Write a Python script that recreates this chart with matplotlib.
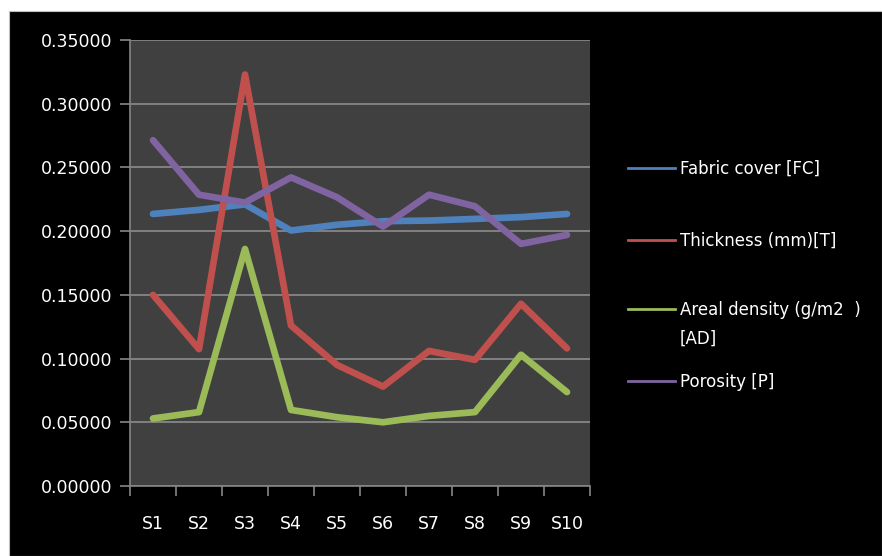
import matplotlib
matplotlib.use("Agg")
import matplotlib.pyplot as plt
from matplotlib.lines import Line2D
from matplotlib.patches import Rectangle

# Sample categories and measured properties
samples = ["S1", "S2", "S3", "S4", "S5", "S6", "S7", "S8", "S9", "S10"]
fabric_cover = [0.2135, 0.2167, 0.2210, 0.2005, 0.2050, 0.2078, 0.2083, 0.2096, 0.2110, 0.2135]
thickness = [0.1500, 0.1074, 0.3229, 0.1260, 0.0950, 0.0780, 0.1060, 0.0990, 0.1430, 0.1080]
areal_density = [0.0530, 0.0580, 0.1860, 0.0597, 0.0540, 0.0500, 0.0550, 0.0580, 0.1030, 0.0737]
porosity = [0.2714, 0.2286, 0.2224, 0.2422, 0.2266, 0.2036, 0.2286, 0.2195, 0.1900, 0.1970]

series_labels = ["Fabric cover [FC]", "Thickness (mm)[T]",
                 "Areal density (g/m2  )\n[AD]", "Porosity [P]"]
series_values = [fabric_cover, thickness, areal_density, porosity]
series_colors = ["#4F81BD", "#C0504D", "#9BBB59", "#8064A2"]
y_ticks = [0.0, 0.05, 0.10, 0.15, 0.20, 0.25, 0.30, 0.35]

W, H = 882, 556
fig = plt.figure(figsize=(W / 100, H / 100), dpi=100, facecolor="white")

# Black chart area with a thin grey frame
fig.add_artist(Rectangle((9 / W, 0), 1 - 9 / W, 1 - 11 / H, transform=fig.transFigure,
                         facecolor="black", edgecolor="#bfbfbf", linewidth=0.8, zorder=0))

ax = fig.add_axes([130 / W, 1 - 486 / H, (590 - 130) / W, (486 - 40) / H])
ax.set_facecolor("#404040")

x = list(range(len(samples)))
for vals, col in zip(series_values, series_colors):
    ax.plot(x, vals, color=col, linewidth=4.8, solid_capstyle="round",
            solid_joinstyle="round", zorder=3)

ax.set_xlim(-0.5, len(samples) - 0.5)
ax.set_ylim(0, 0.35)
ax.set_yticks(y_ticks)
ax.set_yticklabels([f"{v:.5f}" for v in y_ticks])
ax.set_xticks(x)
ax.set_xticklabels(samples)
ax.set_xticks([i - 0.5 for i in range(len(samples) + 1)], minor=True)

ax.grid(axis="y", color="#8c8c8c", linewidth=1.2, zorder=1)
ax.set_axisbelow(True)

for side in ["top", "right"]:
    ax.spines[side].set_visible(False)
for side in ["left", "bottom"]:
    ax.spines[side].set_color("#868686")
    ax.spines[side].set_linewidth(1.2)

ax.tick_params(axis="y", colors="#868686", labelcolor="white", length=7, width=1.2,
               labelsize=12.5, pad=6)
ax.tick_params(axis="x", which="major", length=0, labelcolor="white", labelsize=12.5, pad=21)
ax.tick_params(axis="x", which="minor", colors="#868686", length=7, width=1.2)

# Legend at the right side
legend_rows = [168, 240, 309, 381]
for lab, col, yp in zip(series_labels, series_colors, legend_rows):
    fig.add_artist(Line2D([628 / W, 675 / W], [1 - yp / H, 1 - yp / H],
                          transform=fig.transFigure, color=col, linewidth=2))
    fig.text(680 / W, 1 - (yp - 8) / H, lab, color="white", fontsize=12,
             va="top", ha="left", linespacing=1.75)

fig.savefig("out.png", dpi=100, facecolor="white")
